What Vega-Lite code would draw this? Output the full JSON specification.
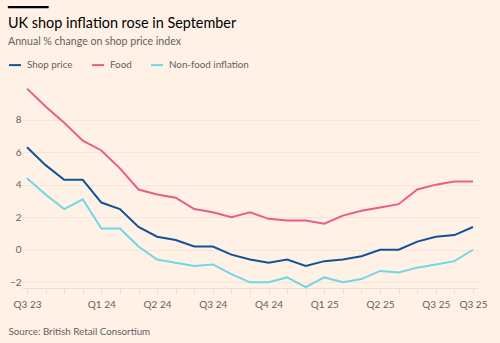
{
  "$schema": "https://vega.github.io/schema/vega-lite/v6.json",
  "width": 456,
  "height": 201,
  "autosize": {"type": "none"},
  "padding": {"left": 22, "top": 87, "right": 22, "bottom": 55},
  "background": "#FFF1E5",
  "config": {
    "view": {"stroke": null},
    "font": "Lato"
  },
  "title": {
    "text": ["━━━━━", "UK shop inflation rose in September"],
    "subtitle": "Annual % change on shop price index",
    "anchor": "start",
    "frame": "group",
    "dx": -14,
    "fontSize": 14.4,
    "fontWeight": "normal",
    "color": "#000000",
    "lineHeight": 16,
    "subtitleFontSize": 10.6,
    "subtitleColor": "#66605C",
    "subtitlePadding": 6,
    "offset": 9
  },
  "data": {
    "values": [
      {"month": "2023-09", "series": "Shop price", "value": 6.3},
      {"month": "2023-10", "series": "Shop price", "value": 5.2},
      {"month": "2023-11", "series": "Shop price", "value": 4.3},
      {"month": "2023-12", "series": "Shop price", "value": 4.3},
      {"month": "2024-01", "series": "Shop price", "value": 2.9},
      {"month": "2024-02", "series": "Shop price", "value": 2.5},
      {"month": "2024-03", "series": "Shop price", "value": 1.4},
      {"month": "2024-04", "series": "Shop price", "value": 0.8},
      {"month": "2024-05", "series": "Shop price", "value": 0.6},
      {"month": "2024-06", "series": "Shop price", "value": 0.2},
      {"month": "2024-07", "series": "Shop price", "value": 0.2},
      {"month": "2024-08", "series": "Shop price", "value": -0.3},
      {"month": "2024-09", "series": "Shop price", "value": -0.6},
      {"month": "2024-10", "series": "Shop price", "value": -0.8},
      {"month": "2024-11", "series": "Shop price", "value": -0.6},
      {"month": "2024-12", "series": "Shop price", "value": -1.0},
      {"month": "2025-01", "series": "Shop price", "value": -0.7},
      {"month": "2025-02", "series": "Shop price", "value": -0.6},
      {"month": "2025-03", "series": "Shop price", "value": -0.4},
      {"month": "2025-04", "series": "Shop price", "value": 0.0},
      {"month": "2025-05", "series": "Shop price", "value": 0.0},
      {"month": "2025-06", "series": "Shop price", "value": 0.5},
      {"month": "2025-07", "series": "Shop price", "value": 0.8},
      {"month": "2025-08", "series": "Shop price", "value": 0.9},
      {"month": "2025-09", "series": "Shop price", "value": 1.4},
      {"month": "2023-09", "series": "Food", "value": 9.9},
      {"month": "2023-10", "series": "Food", "value": 8.8},
      {"month": "2023-11", "series": "Food", "value": 7.8},
      {"month": "2023-12", "series": "Food", "value": 6.7},
      {"month": "2024-01", "series": "Food", "value": 6.1},
      {"month": "2024-02", "series": "Food", "value": 5.0},
      {"month": "2024-03", "series": "Food", "value": 3.7},
      {"month": "2024-04", "series": "Food", "value": 3.4},
      {"month": "2024-05", "series": "Food", "value": 3.2},
      {"month": "2024-06", "series": "Food", "value": 2.5},
      {"month": "2024-07", "series": "Food", "value": 2.3},
      {"month": "2024-08", "series": "Food", "value": 2.0},
      {"month": "2024-09", "series": "Food", "value": 2.3},
      {"month": "2024-10", "series": "Food", "value": 1.9},
      {"month": "2024-11", "series": "Food", "value": 1.8},
      {"month": "2024-12", "series": "Food", "value": 1.8},
      {"month": "2025-01", "series": "Food", "value": 1.6},
      {"month": "2025-02", "series": "Food", "value": 2.1},
      {"month": "2025-03", "series": "Food", "value": 2.4},
      {"month": "2025-04", "series": "Food", "value": 2.6},
      {"month": "2025-05", "series": "Food", "value": 2.8},
      {"month": "2025-06", "series": "Food", "value": 3.7},
      {"month": "2025-07", "series": "Food", "value": 4.0},
      {"month": "2025-08", "series": "Food", "value": 4.2},
      {"month": "2025-09", "series": "Food", "value": 4.2},
      {"month": "2023-09", "series": "Non-food inflation", "value": 4.4},
      {"month": "2023-10", "series": "Non-food inflation", "value": 3.4},
      {"month": "2023-11", "series": "Non-food inflation", "value": 2.5},
      {"month": "2023-12", "series": "Non-food inflation", "value": 3.1},
      {"month": "2024-01", "series": "Non-food inflation", "value": 1.3},
      {"month": "2024-02", "series": "Non-food inflation", "value": 1.3},
      {"month": "2024-03", "series": "Non-food inflation", "value": 0.2},
      {"month": "2024-04", "series": "Non-food inflation", "value": -0.6},
      {"month": "2024-05", "series": "Non-food inflation", "value": -0.8},
      {"month": "2024-06", "series": "Non-food inflation", "value": -1.0},
      {"month": "2024-07", "series": "Non-food inflation", "value": -0.9},
      {"month": "2024-08", "series": "Non-food inflation", "value": -1.5},
      {"month": "2024-09", "series": "Non-food inflation", "value": -2.0},
      {"month": "2024-10", "series": "Non-food inflation", "value": -2.0},
      {"month": "2024-11", "series": "Non-food inflation", "value": -1.7},
      {"month": "2024-12", "series": "Non-food inflation", "value": -2.3},
      {"month": "2025-01", "series": "Non-food inflation", "value": -1.7},
      {"month": "2025-02", "series": "Non-food inflation", "value": -2.0},
      {"month": "2025-03", "series": "Non-food inflation", "value": -1.8},
      {"month": "2025-04", "series": "Non-food inflation", "value": -1.3},
      {"month": "2025-05", "series": "Non-food inflation", "value": -1.4},
      {"month": "2025-06", "series": "Non-food inflation", "value": -1.1},
      {"month": "2025-07", "series": "Non-food inflation", "value": -0.9},
      {"month": "2025-08", "series": "Non-food inflation", "value": -0.7},
      {"month": "2025-09", "series": "Non-food inflation", "value": 0.0}
    ]
  },
  "mark": {"type": "line", "strokeWidth": 2, "strokeJoin": "miter"},
  "encoding": {
    "x": {
      "field": "month",
      "type": "ordinal",
      "scale": {"type": "point", "padding": 0.27},
      "axis": {
        "title": "Source: British Retail Consortium",
        "titleAnchor": "start",
        "titleAlign": "left",
        "titleX": -14,
        "titleY": 46,
        "titleBaseline": "alphabetic",
        "titleFontSize": 9.8,
        "titleFontWeight": "normal",
        "titleColor": "#66605C",
        "labelAngle": 0,
        "labelOverlap": false,
        "labelExpr": "indexof(['2023-09','2024-01','2024-04','2024-07','2024-10','2025-01','2025-04','2025-07','2025-09'], datum.value) >= 0 ? 'Q' + ceil(toNumber(substring(datum.value,5,7))/3) + ' ' + substring(datum.value,2,4) : ''",
        "labelFontSize": 10,
        "labelColor": "#66605C",
        "labelPadding": 6,
        "tickColor": "#EBDDD0",
        "tickSize": 5,
        "domainColor": "#EBDDD0",
        "grid": false
      }
    },
    "y": {
      "field": "value",
      "type": "quantitative",
      "scale": {"domain": [-2.35, 10], "nice": false, "zero": false},
      "axis": {
        "title": null,
        "values": [-2, 0, 2, 4, 6, 8],
        "labelFontSize": 10,
        "labelColor": "#66605C",
        "labelPadding": 1,
        "ticks": false,
        "domain": false,
        "gridColor": "#F6E6D9",
        "gridWidth": 1
      }
    },
    "color": {
      "field": "series",
      "type": "nominal",
      "scale": {
        "domain": ["Shop price", "Food", "Non-food inflation"],
        "range": ["#0F5499", "#E95D8C", "#70D6E8"]
      },
      "legend": {
        "title": null,
        "orient": "none",
        "direction": "horizontal",
        "legendX": -14,
        "legendY": -29,
        "symbolType": "stroke",
        "symbolSize": 144,
        "symbolStrokeWidth": 2,
        "labelFontSize": 9.8,
        "labelColor": "#66605C",
        "columnPadding": 15,
        "labelOffset": 5
      }
    }
  }
}
